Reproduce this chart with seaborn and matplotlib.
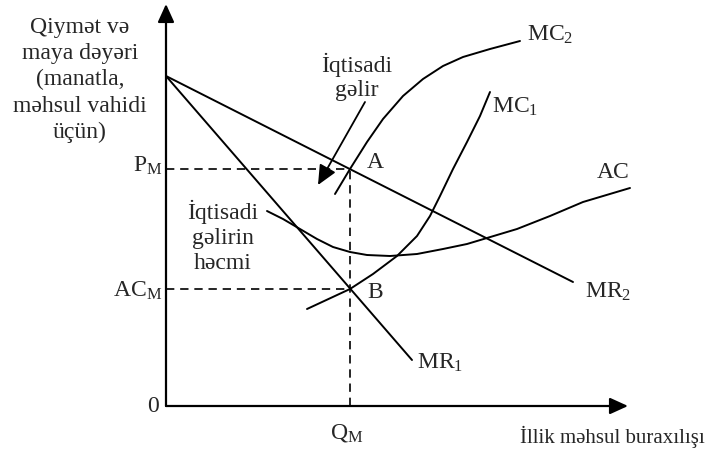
import numpy as np
import pandas as pd
import matplotlib
matplotlib.use("Agg")
import matplotlib.pyplot as plt
import seaborn as sns

# curves (units: 10 px, origin at the axes corner)
mr_x = [0.0, 40.7]
mr2_y = [33.0, 12.4]
mr1_x = [0.0, 24.6]
mr1_y = [33.0, 4.6]

mc2_x = [16.9, 18.4, 20.1, 21.7, 23.7, 25.7, 27.7, 29.7, 32.4, 35.4]
mc2_y = [21.2, 23.7, 26.4, 28.7, 31.0, 32.7, 34.0, 34.9, 35.7, 36.5]

mc1_x = [14.1, 18.4, 20.7, 23.1, 25.1, 26.4, 27.4, 28.7, 30.1, 31.4, 32.4]
mc1_y = [9.7, 11.7, 13.2, 15.0, 17.0, 19.0, 21.0, 23.7, 26.4, 29.0, 31.4]

ac_x = [10.1, 11.7, 13.4, 15.1, 16.7, 18.4, 20.1, 22.4, 25.1, 27.7, 30.1,
        32.1, 35.1, 38.4, 41.7, 46.4]
ac_y = [19.5, 18.7, 17.7, 16.7, 15.9, 15.4, 15.1, 15.0, 15.2, 15.7, 16.2,
        16.8, 17.7, 19.0, 20.4, 21.8]

q_m = 18.4
p_m = 23.7
ac_m = 11.7

sns.set_style("white")
plt.rcParams["font.family"] = ["Liberation Serif", "DejaVu Serif"]
plt.rcParams["mathtext.fontset"] = "custom"
plt.rcParams["mathtext.rm"] = "Liberation Serif"
plt.rcParams["mathtext.it"] = "Liberation Serif:italic"

fig = plt.figure(figsize=(7.11, 4.52), dpi=100)
ax = fig.add_axes([0, 0, 1, 1])
ax.set_xlim(-16.6, 54.5)
ax.set_ylim(-4.5, 40.7)
ax.axis("off")

lw = 1.4
curves = [(mr_x, mr2_y), (mr1_x, mr1_y), (mc2_x, mc2_y), (mc1_x, mc1_y), (ac_x, ac_y)]
for xs, ys in curves:
    sns.lineplot(x=xs, y=ys, ax=ax, color="black", lw=lw, sort=False,
                 estimator=None)

# dashed guides
dash = (0, (5, 3.5))
ax.plot([0, q_m], [p_m, p_m], color="black", lw=1.2, ls=dash)
ax.plot([0, q_m], [ac_m, ac_m], color="black", lw=1.2, ls=dash)
ax.plot([q_m, q_m], [0, p_m], color="black", lw=1.2, ls=dash)

# axes with arrows
head = dict(arrowstyle="-|>,head_length=1.1,head_width=0.5", color="black",
            lw=1.6, shrinkA=0, shrinkB=0, mutation_scale=10)
ax.annotate("", xy=(0, 40.2), xytext=(0, 0), arrowprops=head)
ax.annotate("", xy=(46.2, 0), xytext=(0, 0), arrowprops=head)

# annotation arrow for profit
ax.annotate("", xy=(15.2, 22.1), xytext=(19.9, 30.4),
            arrowprops=dict(arrowstyle="-|>,head_length=1.2,head_width=0.55",
                            color="black", lw=1.3, shrinkA=0, shrinkB=0,
                            mutation_scale=10))

fs = 17
ax.text(-8.6, 32.7, "Qiymət və\nmaya dəyəri\n(manatla,\nməhsul vahidi\nüçün)",
        ha="center", va="center", fontsize=fs, linespacing=1.33)
ax.text(-0.4, 23.5, r"$\mathrm{P_M}$", ha="right", va="baseline", fontsize=fs)
ax.text(-0.4, 11.0, r"$\mathrm{AC_M}$", ha="right", va="baseline", fontsize=fs)
ax.text(-1.3, 0, "0", ha="center", va="center", fontsize=fs)
ax.text(q_m - 0.3, -2.6, r"$\mathrm{Q_M}$", ha="center", va="center", fontsize=fs)
ax.text(35.4, -3.0, "İllik məhsul buraxılışı", ha="left", va="center", fontsize=15)

ax.text(19.1, 33.0, "İqtisadi\ngəlir", ha="center", va="center", fontsize=fs,
        linespacing=1.2)
ax.text(5.7, 17.0, "İqtisadi\ngəlirin\nhəcmi", ha="center", va="center",
        fontsize=fs, linespacing=1.26)

ax.text(20.9, 24.5, "A", ha="center", va="center", fontsize=fs)
ax.text(20.9, 11.5, "B", ha="center", va="center", fontsize=fs)
ax.text(36.1, 37.2, r"$\mathrm{MC_2}$", ha="left", va="center", fontsize=fs)
ax.text(32.6, 30.0, r"$\mathrm{MC_1}$", ha="left", va="center", fontsize=fs)
ax.text(43.1, 23.5, "AC", ha="left", va="center", fontsize=fs)
ax.text(41.9, 11.5, r"$\mathrm{MR_2}$", ha="left", va="center", fontsize=fs)
ax.text(25.1, 4.4, r"$\mathrm{MR_1}$", ha="left", va="center", fontsize=fs)

fig.savefig("out.png", dpi=100)
